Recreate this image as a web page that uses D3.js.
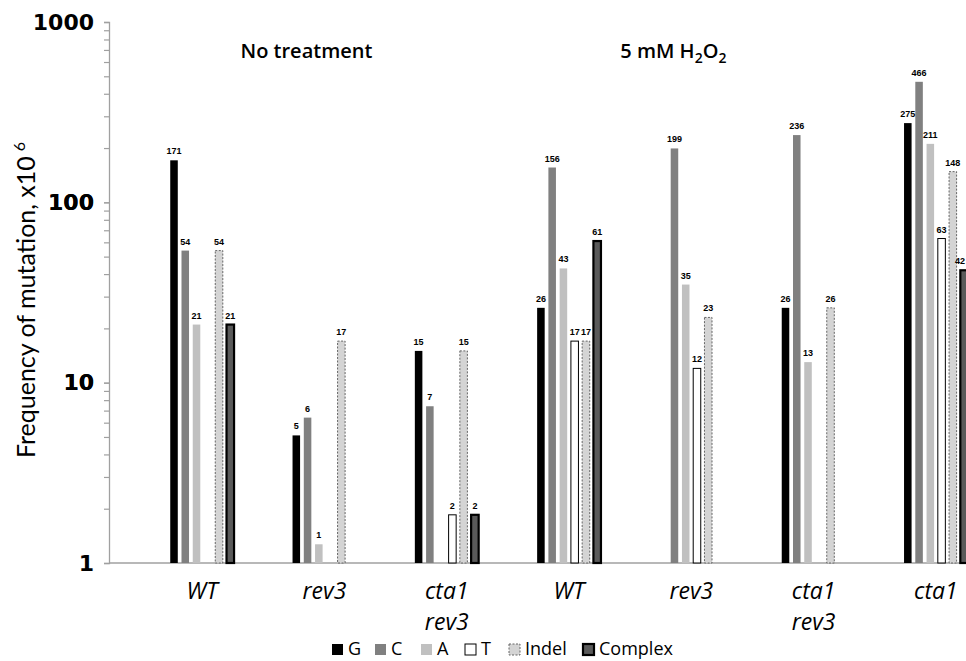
<!DOCTYPE html>
<html>
<head>
<meta charset="utf-8">
<script src="https://cdn.jsdelivr.net/npm/d3@7"></script>
<style>
  body { margin: 0; background: #fff; }
  svg { display: block; }
</style>
</head>
<body>
<svg id="chart" width="966" height="661"></svg>
<script>
const categories = ["WT", "rev3", "cta1 rev3", "WT ", "rev3 ", "cta1 rev3 ", "cta1"];
const categoryLines = [["WT"], ["rev3"], ["cta1", "rev3"], ["WT"], ["rev3"], ["cta1", "rev3"], ["cta1"]];
const seriesNames = ["G", "C", "A", "T", "Indel", "Complex"];

const valuesG = [171, 5.1, 15, 26, null, 26, 275];
const valuesC = [54, 6.4, 7.4, 156, 199, 236, 466];
const valuesA = [21, 1.27, null, 43, 35, 13, 211];
const valuesT = [null, null, 1.85, 17, 12, null, 63];
const valuesIndel = [54, 17, 15, 17, 23, 26, 148];
const valuesComplex = [21, null, 1.85, 61, null, null, 42];

const yTicks = [1, 10, 100, 1000];
const conditionTitles = [
  { label: "No treatment", at: 1 },
  { label: "5 mM H2O2", at: 4 }
];

const seriesValues = [valuesG, valuesC, valuesA, valuesT, valuesIndel, valuesComplex];

const styles = {
  G: { fill: "#000", stroke: "none", width: 0, dash: null },
  C: { fill: "#808080", stroke: "none", width: 0, dash: null },
  A: { fill: "#c0c0c0", stroke: "none", width: 0, dash: null },
  T: { fill: "#fff", stroke: "#000", width: 1, dash: null },
  Indel: { fill: "#d4d4d4", stroke: "#666", width: 1, dash: "2,1.5" },
  Complex: { fill: "#5a5a5a", stroke: "#000", width: 2.2, dash: null }
};

const svg = d3.select("#chart");

const x = d3.scaleBand()
  .domain(categories)
  .range([141, 141 + 7 * 122.3]);

const xSeries = d3.scaleBand()
  .domain(seriesNames)
  .range([-33.6, 33.6])
  .paddingInner(0.33)
  .paddingOuter(0.15);

const y = d3.scaleLog()
  .domain([1, 1000])
  .range([563, 22]);

// y axis with minor ticks
const minorTicks = [];
for (let d = 1; d < 1000; d *= 10) {
  for (let k = 1; k <= 10; k++) minorTicks.push(d * k);
}

const yAxis = svg.append("g")
  .attr("transform", "translate(109,0)")
  .call(
    d3.axisLeft(y)
      .tickValues(minorTicks)
      .tickSize(5)
      .tickPadding(10)
      .tickFormat(d => yTicks.includes(d) ? d : "")
  );

yAxis.select(".domain").attr("stroke", "#a0a0a0").attr("stroke-width", 1.3);
yAxis.selectAll(".tick line").attr("stroke", "#a0a0a0").attr("stroke-width", 1.2);
yAxis.selectAll(".tick text")
  .attr("fill", "#000")
  .style("font-family", "DejaVu Sans")
  .style("font-weight", "bold")
  .style("font-size", "22px");

// baseline
svg.append("line")
  .attr("x1", 109)
  .attr("x2", 966)
  .attr("y1", y(1))
  .attr("y2", y(1))
  .attr("stroke", "#a0a0a0")
  .attr("stroke-width", 1.5);

// bars
const bars = [];
categories.forEach((c, i) => {
  seriesNames.forEach((s, j) => {
    const v = seriesValues[j][i];
    if (v != null) bars.push({ cat: c, series: s, value: v });
  });
});

const barX = d => x(d.cat) + x.bandwidth() / 2 + xSeries(d.series);

svg.append("g")
  .selectAll("rect")
  .data(bars)
  .join("rect")
  .attr("x", d => barX(d))
  .attr("y", d => y(d.value))
  .attr("width", xSeries.bandwidth())
  .attr("height", d => y(1) - y(d.value))
  .attr("fill", d => styles[d.series].fill)
  .attr("stroke", d => styles[d.series].stroke)
  .attr("stroke-width", d => styles[d.series].width)
  .attr("stroke-dasharray", d => styles[d.series].dash);

// value labels, kept inside the right edge
svg.append("g")
  .selectAll("text")
  .data(bars)
  .join("text")
  .attr("x", d => Math.min(barX(d) + xSeries.bandwidth() / 2, 960))
  .attr("y", d => y(d.value) - 6)
  .attr("text-anchor", "middle")
  .style("font-family", "Liberation Sans")
  .style("font-weight", "bold")
  .style("font-size", "9px")
  .text(d => d3.format(".0f")(d.value));

// category labels
const catLabels = svg.append("g")
  .selectAll("text")
  .data(categories)
  .join("text")
  .attr("x", d => x(d) + x.bandwidth() / 2)
  .attr("y", 599)
  .attr("text-anchor", "middle")
  .style("font-family", "Open Sans")
  .style("font-style", "italic")
  .style("font-size", "23px");

catLabels.each(function (d, i) {
  d3.select(this)
    .selectAll("tspan")
    .data(categoryLines[i])
    .join("tspan")
    .attr("x", x(d) + x.bandwidth() / 2)
    .attr("dy", (t, k) => k === 0 ? 0 : 31)
    .text(t => t);
});

// condition titles
const titles = svg.append("g")
  .selectAll("text")
  .data(conditionTitles)
  .join("text")
  .attr("x", d => x(categories[d.at]) + x.bandwidth() / 2 - 18)
  .attr("y", 58)
  .attr("text-anchor", "middle")
  .style("font-family", "Open Sans")
  .style("font-weight", "600")
  .style("font-size", "20px");

titles.each(function (d) {
  const t = d3.select(this);
  if (d.label === "5 mM H2O2") {
    t.append("tspan").text("5 mM H");
    t.append("tspan").attr("dy", 5).style("font-size", "14px").text("2");
    t.append("tspan").attr("dy", -5).text("O");
    t.append("tspan").attr("dy", 5).style("font-size", "14px").text("2");
  } else {
    t.text(d.label);
  }
});

// y axis title
const yTitle = svg.append("text")
  .attr("transform", "translate(35,300) rotate(-90)")
  .attr("text-anchor", "middle")
  .style("font-family", "Lato")
  .style("font-size", "25px");
yTitle.append("tspan").text("Frequency of  mutation, x10");
yTitle.append("tspan").attr("dy", -10).attr("dx", 5).style("font-size", "16px").text("6");

// legend
const legendItems = [
  { name: "G", x: 332 },
  { name: "C", x: 375 },
  { name: "A", x: 421 },
  { name: "T", x: 465 },
  { name: "Indel", x: 509 },
  { name: "Complex", x: 583 }
];

const legend = svg.append("g")
  .selectAll("g")
  .data(legendItems)
  .join("g")
  .attr("transform", d => `translate(${d.x},644)`);

legend.append("rect")
  .attr("width", 11)
  .attr("height", 11)
  .attr("fill", d => styles[d.name].fill)
  .attr("stroke", d => styles[d.name].stroke)
  .attr("stroke-width", d => d.name === "Complex" ? 2.2 : styles[d.name].width)
  .attr("stroke-dasharray", d => styles[d.name].dash);

legend.append("text")
  .attr("x", 16)
  .attr("y", 11)
  .style("font-family", "Open Sans")
  .style("font-size", "18px")
  .text(d => d.name);
</script>
</body>
</html>
